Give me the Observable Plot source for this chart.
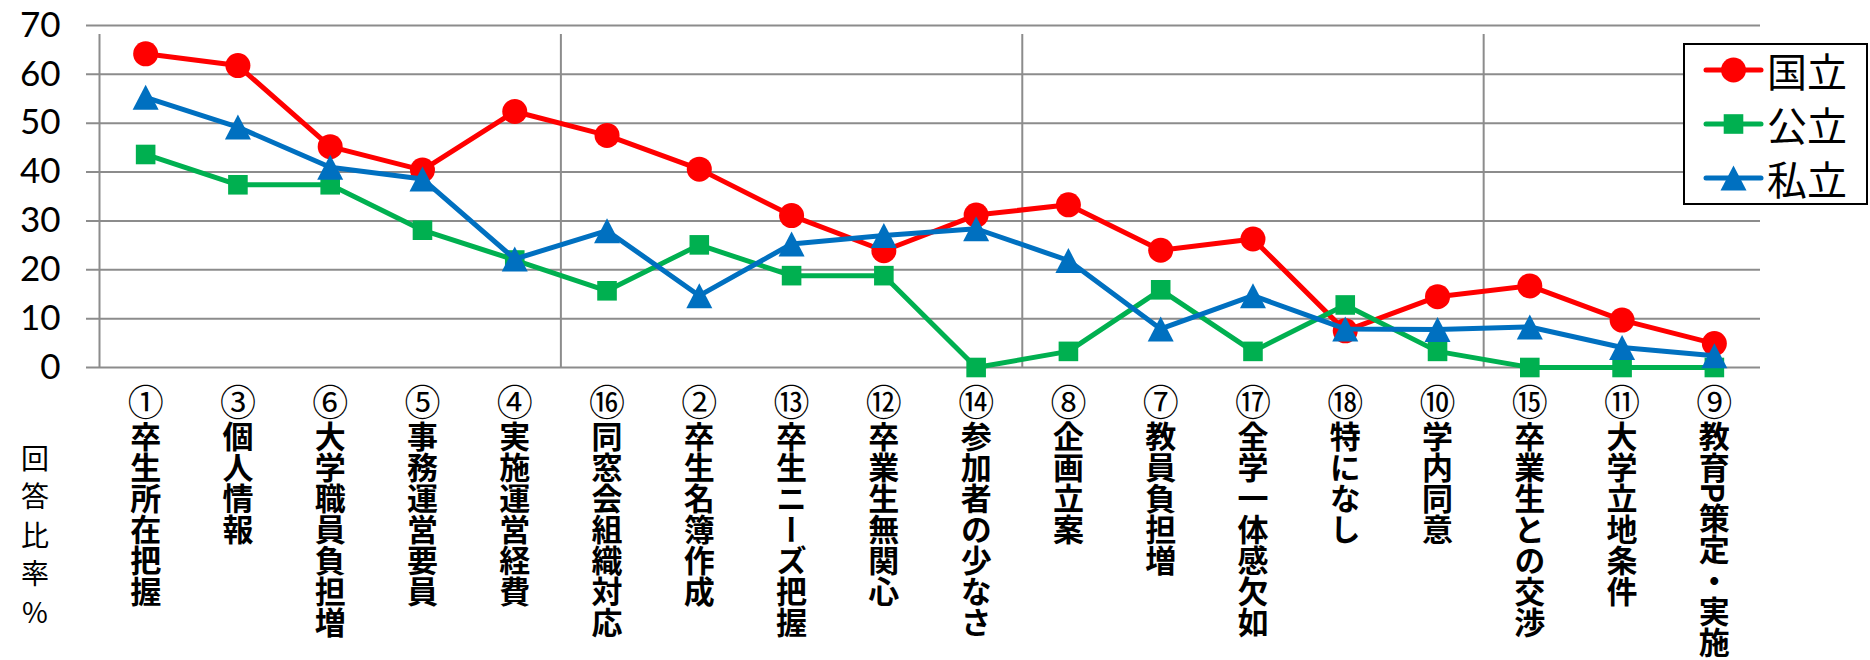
<!DOCTYPE html>
<html><head><meta charset="utf-8">
<script src="https://cdn.jsdelivr.net/npm/d3@7"></script>
<script src="https://cdn.jsdelivr.net/npm/@observablehq/plot@0.6"></script>
<style>
html,body{margin:0;padding:0;background:#fff;}
#wrap{position:relative;width:1870px;height:660px;overflow:hidden;background:#fff;}
#ytitle{position:absolute;left:21px;top:444px;writing-mode:vertical-rl;text-orientation:upright;font-family:"Noto Sans CJK JP",sans-serif;font-size:28px;line-height:28px;letter-spacing:10.5px;color:#000;}
#legend{position:absolute;left:1681px;top:20px;overflow:visible;}
</style></head><body><div id="wrap"></div>
<script>
const categories = ["①卒生所在把握","③個人情報","⑥大学職員負担増","⑤事務運営要員","④実施運営経費","⑯同窓会組織対応","②卒生名簿作成","⑬卒生ニーズ把握","⑫卒業生無関心","⑭参加者の少なさ","⑧企画立案","⑦教員負担増","⑰全学一体感欠如","⑱特になし","⑩学内同意","⑮卒業生との交渉","⑪大学立地条件","⑨教育P策定・実施"];
const seriesNames = ["国立","公立","私立"];
const kokuritsu = [64.2,61.8,45.2,40.4,52.4,47.5,40.6,31.1,23.9,31.2,33.3,24.0,26.3,7.5,14.5,16.7,9.7,4.9];
const koritsu   = [43.6,37.4,37.4,28.1,22.0,15.7,25.1,18.8,18.8,0,3.3,15.9,3.3,12.8,3.3,0,0,0];
const shiritsu  = [55.3,49.2,41.0,38.6,22.2,28.0,14.7,25.3,27.0,28.4,21.9,7.9,14.7,7.9,7.8,8.3,4.1,2.4];
const yTicks = [0,10,20,30,40,50,60,70];
const yTitle = "回答比率%";

const colors = ["#FF0000","#00B050","#0070C0"];
const circleSym = {draw(c){ c.moveTo(12.5,0); c.arc(0,0,12.5,0,2*Math.PI); c.closePath(); }};
const squareSym = {draw(c){ const s=9.8; c.moveTo(-s,-s); c.lineTo(s,-s); c.lineTo(s,s); c.lineTo(-s,s); c.closePath(); }};
const triSym = {draw(c){ const w=13, h=12.5; c.moveTo(0,-h); c.lineTo(w,h); c.lineTo(-w,h); c.closePath(); }};
const symbols = [circleSym, squareSym, triSym];
const seriesValues = [kokuritsu, koritsu, shiritsu];

const idx = d3.range(categories.length);
const boundaries = d3.range(-0.5, categories.length, 5);
const grid = "#8c8c8c";

const seriesMarks = seriesValues.flatMap((vals, s) => [
  Plot.line(idx, {x: i => i, y: i => vals[i], stroke: colors[s], strokeWidth: 5, strokeLinejoin: "round", curve: "linear"}),
  Plot.dot(idx, {x: i => i, y: i => vals[i], symbol: symbols[s], fill: colors[s], stroke: "none", r: 10})
]);

const plot = Plot.plot({
  width: 1870, height: 660,
  marginLeft: 99, marginRight: 110, marginTop: 25, marginBottom: 293,
  x: {type: "linear", domain: [-0.5, categories.length - 0.5], axis: null},
  y: {domain: [0, 70], axis: null},
  style: {fontFamily: "Lato, sans-serif", background: "white", color: "#000"},
  marks: [
    Plot.ruleY(yTicks, {stroke: grid, strokeWidth: 2, insetLeft: -13}),
    Plot.ruleX(boundaries, {y1: 0, y2: 70, stroke: grid, strokeWidth: 2, insetBottom: -9}),
    Plot.axisY({ticks: yTicks, tickSize: 0, tickPadding: 39, fontSize: 35, label: null}),
    ...seriesMarks,
    Plot.text(idx, {x: i => i, text: i => categories[i], frameAnchor: "bottom", dy: 17, textAnchor: "start", fontSize: 31, fontWeight: "bold", fontFamily: "Noto Sans CJK JP", fill: "#000"})
  ]
});

// vertical writing for category labels; enlarge the circled number
const catSet = new Set(categories);
d3.select(plot).selectAll("text").each(function() {
  const t = this.textContent;
  if (catSet.has(t)) {
    this.removeAttribute("dy");
    this.style.writingMode = "vertical-rl";
    this.style.textOrientation = "mixed";
    this.textContent = "";
    const sel = d3.select(this);
    sel.append("tspan").attr("font-size", 36).attr("font-weight", "normal").style("letter-spacing", "0px").text(t[0]);
    sel.append("tspan").text(t.slice(1));
  }
});

const wrap = document.getElementById("wrap");
wrap.appendChild(plot);

const yt = document.createElement("div");
yt.id = "ytitle"; yt.textContent = yTitle;
wrap.appendChild(yt);

// legend (box drawn inside an svg with room around the text)
const ls = d3.create("svg").attr("id", "legend").attr("width", 189).attr("height", 210);
const ox = 2, oy = 23;
ls.append("rect").attr("x", ox + 1).attr("y", oy + 1).attr("width", 183).attr("height", 160)
  .attr("fill", "#fff").attr("stroke", "#000").attr("stroke-width", 2);
seriesNames.forEach((name, s) => {
  const cy = oy + 27 + s * 54;
  ls.append("line").attr("x1", ox + 23).attr("x2", ox + 78).attr("y1", cy).attr("y2", cy)
    .attr("stroke", colors[s]).attr("stroke-width", 5).attr("stroke-linecap", "round");
  ls.append("path").attr("transform", `translate(${ox + 50.5},${cy})`).attr("fill", colors[s])
    .attr("d", d3.symbol(symbols[s])());
  ls.append("text").attr("x", ox + 84).attr("y", cy).attr("dominant-baseline", "central")
    .attr("font-family", "Noto Sans CJK JP").attr("font-size", 40).attr("fill", "#000").text(name);
});
wrap.appendChild(ls.node());
</script></body></html>
